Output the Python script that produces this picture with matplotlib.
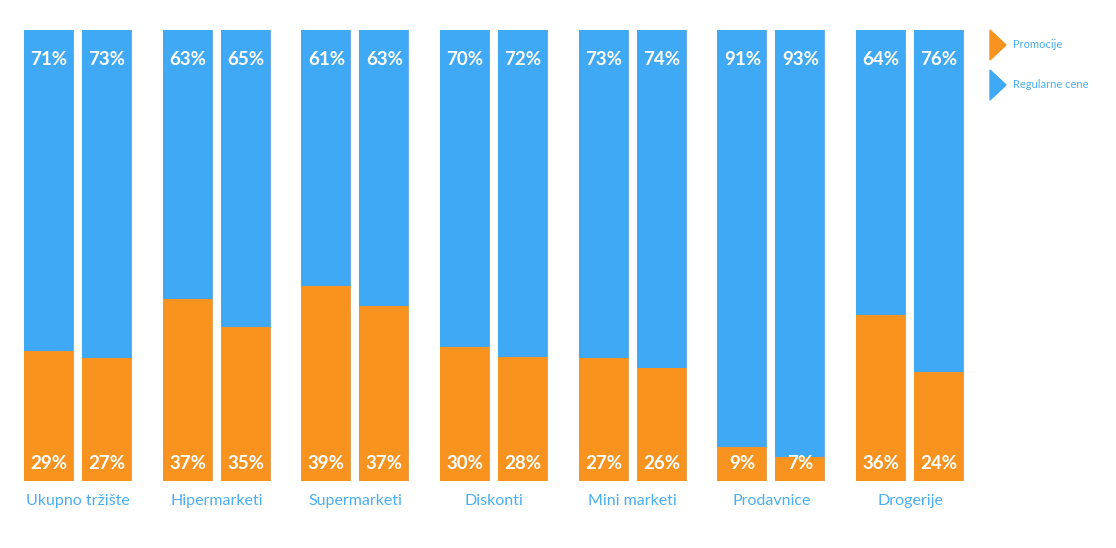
import matplotlib
matplotlib.use("Agg")
import matplotlib.pyplot as plt
import numpy as np

categories = ["Ukupno tržište", "Hipermarketi", "Supermarketi", "Diskonti",
              "Mini marketi", "Prodavnice", "Drogerije"]
# printed labels
promo_label_a = [29, 37, 39, 30, 27, 9, 36]
promo_label_b = [27, 35, 37, 28, 26, 7, 24]
regular_label_a = [71, 63, 61, 70, 73, 91, 64]
regular_label_b = [73, 65, 63, 72, 74, 93, 76]
# bar heights as drawn in the picture (orange share, %)
promo_height_a = [28.8, 40.3, 43.3, 29.8, 27.3, 7.5, 36.8]
promo_height_b = [27.3, 34.2, 38.8, 27.5, 25.0, 5.3, 24.1]
series_names = ["Promocije", "Regularne cene"]

ORANGE = "#F7931E"
BLUE = "#3FA9F5"
LABEL_BLUE = "#4AAEF2"

plt.rcParams['font.family'] = ['Lato', 'DejaVu Sans']

fig = plt.figure(figsize=(11.16, 5.48), dpi=100)
ax = fig.add_axes([0, (548 - 481) / 548, 1, 451 / 548])
ax.set_xlim(-0.5625, 7.485)
ax.set_ylim(0, 100)
ax.axis("off")

x = np.arange(len(categories))
w = 0.361
off = 0.209

for xs, ph, pl, rl in [(x - off, promo_height_a, promo_label_a, regular_label_a),
                       (x + off, promo_height_b, promo_label_b, regular_label_b)]:
    ph = np.array(ph)
    ax.bar(xs, ph, width=w, color=ORANGE, linewidth=0)
    ax.bar(xs, 100 - ph, bottom=ph, width=w, color=BLUE, linewidth=0)
    # subtle right-edge shadow
    ax.bar(xs + w / 2 - 0.004, [100] * len(xs), width=0.008, color="#BDBDBD",
           alpha=0.35, linewidth=0)
    for xi, p, r in zip(xs, pl, rl):
        ax.text(xi, 3.9, f"{p}%", ha="center", va="center", color="white",
                fontsize=13.5, fontweight="bold")
        ax.text(xi, 93.5, f"{r}%", ha="center", va="center", color="white",
                fontsize=13.5, fontweight="bold")

for xi, c in zip(x, categories):
    ax.text(xi, -4.4, c, ha="center", va="center", color=LABEL_BLUE,
            fontsize=11.5)

# legend with right-pointing triangles
for i, (name, col) in enumerate(zip(series_names, [ORANGE, BLUE])):
    yc = 548 - (45 + 40 * i)
    fig.patches.append(plt.Polygon(
        [[990 / 1116, (yc + 15) / 548], [990 / 1116, (yc - 15) / 548],
         [1006 / 1116, yc / 548]], closed=True, color=col,
        transform=fig.transFigure, figure=fig))
    fig.text(1013 / 1116, (yc + 1) / 548, name, ha="left", va="center",
             color=LABEL_BLUE, fontsize=8)

fig.savefig("out.png", dpi=100)
